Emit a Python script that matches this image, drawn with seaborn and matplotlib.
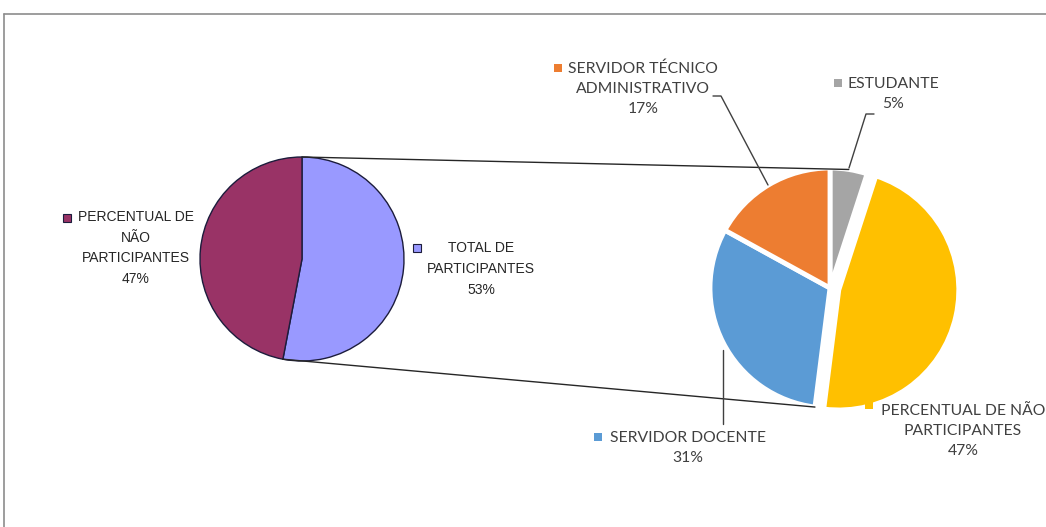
import numpy as np
import matplotlib
matplotlib.use("Agg")
import matplotlib.pyplot as plt
import seaborn as sns

# ---- data -------------------------------------------------------------
overview_labels = ["TOTAL DE\nPARTICIPANTES", "PERCENTUAL DE\nNÃO\nPARTICIPANTES"]
overview_values = [53, 47]

detail_labels = ["ESTUDANTE", "PERCENTUAL DE NÃO\nPARTICIPANTES",
                 "SERVIDOR DOCENTE", "SERVIDOR TÉCNICO\nADMINISTRATIVO"]
detail_values = [5, 47, 31, 17]

# ---- style ------------------------------------------------------------
sns.set_theme(style="white")
plt.rcParams["font.family"] = ["Lato", "DejaVu Sans"]

overview_colors = ["#9999FF", "#993366"]
detail_colors = ["#A5A5A5", "#FFC000", "#5B9BD5", "#ED7D31"]

W, H = 1046, 527
fig = plt.figure(figsize=(W / 100, H / 100), dpi=100)
ax = fig.add_axes([0, 0, 1, 1])


def Y(y):
    """Convert a top-down pixel row to the upward data axis."""
    return H - y


left_c, left_r = (302, Y(259)), 102
right_c, right_r = (830, Y(288)), 120

ax.pie(overview_values, colors=overview_colors, startangle=90, counterclock=False,
       center=left_c, radius=left_r,
       wedgeprops=dict(edgecolor="#1c1c3c", linewidth=1.0))
ax.pie(detail_values, colors=detail_colors, startangle=90, counterclock=False,
       center=right_c, radius=right_r, explode=[0, 9, 0, 0],
       wedgeprops=dict(edgecolor="white", linewidth=3.5))

ax.set_xlim(0, W)
ax.set_ylim(0, H)
ax.set_aspect("equal")
ax.axis("off")


def on_circle(c, r, deg):
    a = np.deg2rad(deg)
    return c[0] + r * np.cos(a), c[1] + r * np.sin(a)


# connector lines between the two pies
split_angle = 90 - 360 * overview_values[0] / sum(overview_values)
tot = sum(detail_values)
top_angle = 90 - 360 * (detail_values[0] / 2) / tot
bottom_angle = 90 - 360 * (detail_values[0] + detail_values[1]) / tot
for a_left, a_right in [(90, top_angle), (split_angle, bottom_angle)]:
    p0 = on_circle(left_c, left_r, a_left)
    p1 = on_circle(right_c, right_r, a_right)
    ax.plot([p0[0], p1[0]], [p0[1], p1[1]], color="#262626", lw=1.0, zorder=5)

# ---- labels -----------------------------------------------------------
left_font = dict(family=["Liberation Sans", "DejaVu Sans"], fontsize=10,
                 color="#262626", linespacing=1.62)
right_font = dict(family=["Lato", "DejaVu Sans"], fontsize=11.3,
                  color="#404040", linespacing=1.55)

# (text centre x, block centre y, marker x, marker y)
left_pos = [(481, 269, 417, 248), (136, 248, 67, 218)]
for lab, val, col, (tx, ty, mx, my) in zip(overview_labels, overview_values,
                                           overview_colors, left_pos):
    ax.text(tx, Y(ty), f"{lab}\n{val}%", ha="center", va="center",
            multialignment="center", **left_font)
    ax.plot(mx, Y(my), marker="s", ms=6, color=col, mec="#1c1c3c", mew=0.8,
            clip_on=False)

right_pos = [(893, 94, 838, 83), (963, 431, 869, 405),
             (688, 448, 598, 437), (643, 89, 558, 68)]
for lab, val, col, (tx, ty, mx, my) in zip(detail_labels, detail_values,
                                           detail_colors, right_pos):
    ax.text(tx, Y(ty), f"{lab}\n{val}%", ha="center", va="center",
            multialignment="center", **right_font)
    ax.plot(mx, Y(my), marker="s", ms=6, color=col, mew=0, clip_on=False,
            zorder=7)

# leader lines from labels to slices
leaders = [
    [(874, 114), (866, 114), (849, 168)],
    [(713, 96), (721, 96), (768, 185)],
    [(723, 350), (723, 424)],
]
for pts in leaders:
    xs, ys = zip(*pts)
    ax.plot(xs, [Y(v) for v in ys], color="#404040", lw=1.0, zorder=6)

# chart area frame (top and left edges visible)
ax.plot([4, W], [Y(14), Y(14)], color="#8c8c8c", lw=1.2, clip_on=False)
ax.plot([4, 4], [Y(14), 0], color="#8c8c8c", lw=1.2, clip_on=False)

fig.savefig("out.png", dpi=100, facecolor="white")
